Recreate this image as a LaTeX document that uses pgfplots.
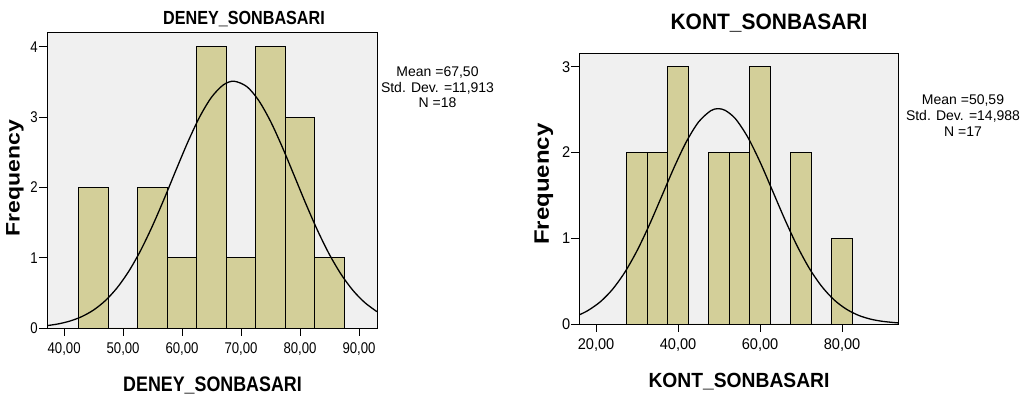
\documentclass[border=0pt]{standalone}
\usepackage{fontspec}
\setmainfont{Liberation Sans}
\newfontfamily\condA{Liberation Sans}[FakeStretch=0.85]
\newfontfamily\condB{Liberation Sans}[FakeStretch=0.94]
\usepackage{pgfplots}
\pgfplotsset{compat=1.18}
\definecolor{barcol}{RGB}{211,207,153}
\definecolor{bgcol}{RGB}{240,240,240}
\pgfplotsset{
  spssax/.style={
    scale only axis,
    anchor=south west,
    axis background/.style={fill=bgcol},
    axis line style={black, line width=0.9bp},
    tick pos=left,
    tick align=outside,
    major tick length=8bp,
    tick style={black, line width=0.9bp},
    ymin=0,
    yticklabel style={anchor=east, inner sep=1bp},
    xticklabel style={anchor=north, inner sep=1bp, yshift=-5bp},
  }
}
\begin{document}
\begin{tikzpicture}
\useasboundingbox (0,0) rectangle (1023bp,400bp);
% ---------- left chart
\begin{axis}[spssax,
  at={(47bp,72bp)}, width=330bp, height=296bp,
  xmin=37.1, xmax=93.05, ymax=4.21,
  xtick={40,50,60,70,80,90},
  xticklabels={{40,00},{50,00},{60,00},{70,00},{80,00},{90,00}},
  ytick={0,1,2,3,4}, yticklabels={0,1,2,3,4},
  ticklabel style={font=\condA\fontsize{15.5bp}{17bp}\selectfont},
]
\addplot[ybar interval, fill=barcol, draw=black, line width=0.9bp] coordinates {
 (42.5,2) (47.5,0) (52.5,2) (57.5,1) (62.5,4) (67.5,1) (72.5,4) (77.5,3) (82.5,1) (87.5,1)
};
\addplot[black, line width=1.3bp, smooth] coordinates {
 (37.1,0.034) (39,0.058) (41,0.099) (43,0.162) (45,0.256) (47,0.390) (49,0.573)
 (51,0.811) (53,1.107) (55,1.456) (57,1.844) (59,2.252) (61,2.649) (63,3.005)
 (65,3.283) (67,3.458) (68.8,3.51) (71,3.432) (73,3.235) (75,2.939) (77,2.572)
 (79,2.170) (81,1.764) (83,1.382) (85,1.043) (87,0.759) (89,0.532) (91,0.360) (93.05,0.232)
};
\end{axis}
% ---------- right chart
\begin{axis}[spssax,
  at={(579.3bp,76bp)}, width=319.4bp, height=270.7bp,
  xmin=15.9, xmax=93.8, ymax=3.156,
  xtick={20,40,60,80},
  xticklabels={{20,00},{40,00},{60,00},{80,00}},
  ytick={0,1,2,3}, yticklabels={0,1,2,3},
  ticklabel style={font=\condB\fontsize{15.5bp}{17bp}\selectfont},
]
\addplot[ybar interval, fill=barcol, draw=black, line width=0.9bp] coordinates {
 (27.5,2) (32.5,2) (37.5,3) (42.5,0) (47.5,2) (52.5,2) (57.5,3) (62.5,0) (67.5,2) (72.5,0) (77.5,1) (82.5,1)
};
\addplot[black, line width=1.3bp, smooth] coordinates {
 (15.9,0.107) (18,0.157) (21,0.258) (24,0.404) (27,0.603) (30,0.856) (33,1.157)
 (36,1.489) (39,1.823) (42,2.124) (45,2.356) (48,2.488) (49.8,2.51) (51.5,2.490)
 (54,2.392) (57,2.177) (60,1.887) (63,1.556) (66,1.222) (69,0.913) (72,0.649)
 (75,0.440) (78,0.283) (81,0.174) (84,0.101) (87,0.056) (90,0.030) (93.8,0.012)
};
\end{axis}
% ---------- texts left
\node[anchor=base, inner sep=0] at (244bp,375.7bp) {\condA\bfseries\fontsize{19bp}{21bp}\selectfont DENEY\_SONBASARI};
\node[anchor=base, inner sep=0] at (212.5bp,8.3bp) {\condA\bfseries\fontsize{21bp}{23bp}\selectfont DENEY\_SONBASARI};
\node[anchor=south, inner sep=0, rotate=90] at (24bp,222bp) {\scalebox{1}[0.85]{\bfseries\fontsize{23bp}{25bp}\selectfont Frequency}};
\node[anchor=base, inner sep=0] at (437.5bp,323.3bp) {\fontsize{14bp}{16bp}\selectfont Mean =67,50};
\node[anchor=base, inner sep=0] at (437.5bp,307.7bp) {\fontsize{14bp}{16bp}\selectfont Std. Dev. =11,913};
\node[anchor=base, inner sep=0] at (437.5bp,292.7bp) {\fontsize{14bp}{16bp}\selectfont N =18};
% ---------- texts right
\node[anchor=base, inner sep=0] at (769bp,370.7bp) {\condB\bfseries\fontsize{22.3bp}{24bp}\selectfont KONT\_SONBASARI};
\node[anchor=base, inner sep=0] at (739bp,12.7bp) {\condB\bfseries\fontsize{20.5bp}{23bp}\selectfont KONT\_SONBASARI};
\node[anchor=south, inner sep=0, rotate=90] at (553.3bp,215.8bp) {\scalebox{1}[0.87]{\bfseries\fontsize{24bp}{26bp}\selectfont Frequency}};
\node[anchor=base, inner sep=0] at (963bp,295.3bp) {\fontsize{14bp}{16bp}\selectfont Mean =50,59};
\node[anchor=base, inner sep=0] at (963bp,279.2bp) {\fontsize{14bp}{16bp}\selectfont Std. Dev. =14,988};
\node[anchor=base, inner sep=0] at (963bp,263.3bp) {\fontsize{14bp}{16bp}\selectfont N =17};
\end{tikzpicture}
\end{document}
